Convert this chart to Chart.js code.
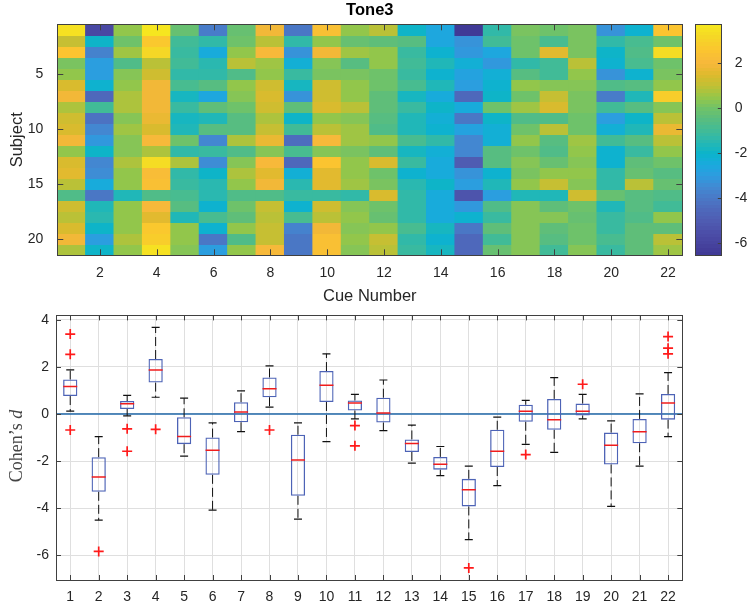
<!DOCTYPE html>
<html><head><meta charset="utf-8">
<script src="https://cdn.jsdelivr.net/npm/chart.js@4.4.1/dist/chart.umd.min.js"></script>
<style>
html,body{margin:0;padding:0;background:#fff;width:751px;height:604px;overflow:hidden;}
canvas{position:absolute;}
</style></head><body>
<canvas id="heat" width="690" height="310" style="left:0;top:0"></canvas>
<canvas id="cbar" width="61" height="310" style="left:690px;top:0"></canvas>
<canvas id="box" width="700" height="304" style="left:0;top:300px"></canvas>
<script>
// ---------------- DATA ----------------
const cueNumbers = [1,2,3,4,5,6,7,8,9,10,11,12,13,14,15,16,17,18,19,20,21,22];
const subjectNumbers = [1,2,3,4,5,6,7,8,9,10,11,12,13,14,15,16,17,18,19,20,21];
const heatXTicks = [2,4,6,8,10,12,14,16,18,20,22];
const heatYTicks = [5,10,15,20];
const colorbarTicks = [-6,-4,-2,0,2];
const boxYTicks = [-6,-4,-2,0,2,4];

// Cohen's d per cue (outer) and subject (inner, subjects 1..21)
const toneByCue = [
  [3.39,1.0,2.53,0.12,0.35,1.45,1.87,0.78,1.17,1.4,1.8,0.5,1.45,1.5,0.9,-0.68,1.3,0.85,1.4,1.85,0.75],
  [-5.83,-2.0,-3.8,-2.9,-2.9,-2.1,-4.5,-0.96,-4.2,-3.5,-3.1,-1.9,-3.5,-3.4,-2.5,-4.0,-1.6,-1.55,-2.0,-3.0,-2.0],
  [0.5,-0.08,0.6,-0.63,0.2,0.4,0.7,0.79,0.3,0.55,0.25,0.3,0.75,0.4,0.4,-1.58,0.4,0.45,0.5,0.7,0.4],
  [3.70,2.6,3.1,0.9,1.3,1.85,1.9,1.8,1.75,1.4,2.0,0.75,3.3,2.2,2.4,-0.65,2.0,1.6,2.6,2.8,3.4],
  [-0.2,-1.0,-1.2,-1.0,-1.3,-0.9,-1.79,-1.1,-1.75,-1.6,0.0,-1.4,0.67,-1.3,-1.1,-0.8,-0.5,-1.65,0.5,0.5,0.3],
  [-3.9,-1.3,-2.5,-1.5,-1.3,-0.5,-2.6,-0.38,-1.7,-0.6,-3.5,-1.2,-3.4,-2.0,-1.5,-1.55,-2.1,-0.8,-2.1,-4.08,-3.0],
  [-0.2,-0.1,0.5,0.98,-0.7,0.5,0.2,-0.1,-0.6,-0.5,0.7,-0.75,0.3,0.75,0.5,-0.7,-0.1,-0.35,0.35,-0.65,0.5],
  [1.8,0.95,2.04,0.6,0.45,1.3,1.35,1.2,0.75,1.0,1.7,0.29,2.0,1.55,1.85,-0.68,1.1,0.85,1.05,1.1,1.95],
  [-4.1,-1.4,-3.2,-2.3,-1.1,-1.8,-3.2,-0.38,-1.9,-1.0,-4.4,-0.8,-4.46,-2.3,-1.5,-1.2,-2.1,-0.8,-3.7,-4.1,-4.0],
  [2.3,0.4,1.9,0.3,0.1,1.2,1.2,1.4,0.4,0.9,2.0,0.3,2.55,1.5,1.6,-1.17,1.3,0.9,1.9,2.4,2.3],
  [0.5,-0.21,0.55,-0.49,0.1,0.5,0.45,0.83,0.2,0.55,0.55,0.15,0.5,0.5,0.65,-1.35,0.3,0.5,0.3,0.45,0.3],
  [0.9,-0.3,0.5,0.4,-0.1,-0.1,-0.3,-0.3,-0.5,-0.71,0.5,-0.4,1.44,0.0,0.05,1.4,0.0,-0.25,0.5,1.1,0.9],
  [-1.9,-0.47,-1.1,-1.05,-1.1,-0.8,-1.8,-1.1,-1.7,-1.7,-0.85,-1.75,-1.25,-2.08,-1.5,-1.3,-1.3,-1.35,-0.9,-1.3,-1.25],
  [-2.6,-2.61,-2.1,-1.6,-2.1,-1.7,-2.5,-1.9,-2.3,-2.1,-1.38,-2.3,-2.4,-2.4,-2.0,-2.4,-2.4,-2.4,-1.8,-2.1,-1.85],
  [-6.53,-3.2,-3.1,-2.3,-2.8,-2.9,-4.6,-2.4,-4.0,-2.8,-3.5,-3.5,-5.0,-3.3,-3.0,-5.33,-3.1,-2.21,-4.1,-4.5,-4.5],
  [-1.3,-1.05,-2.6,-3.04,-2.3,-2.2,-2.0,-0.13,-2.0,-2.3,-2.35,-0.5,-0.5,-2.2,-1.7,-2.9,-0.75,-1.1,-0.45,-1.0,-0.25],
  [0.1,-0.1,0.0,-1.29,-0.5,0.4,-0.1,0.58,-0.7,-0.05,0.45,-0.1,0.2,0.15,0.4,-1.72,0.2,0.3,0.3,0.3,0.2],
  [-0.1,-0.9,1.54,-1.0,-1.0,0.3,1.1,1.35,-0.7,0.9,-0.55,-0.65,-0.2,0.45,1.0,-1.63,-0.35,0.25,-0.4,-0.6,-1.05],
  [0.1,0.15,0.1,0.83,0.5,0.2,0.05,0.05,0.0,0.0,0.6,0.4,0.3,0.44,0.25,1.26,-0.06,-0.21,-0.05,0.0,0.2],
  [-3.3,-1.3,-1.9,-2.2,-3.2,-0.7,-3.92,-1.0,-2.9,-2.3,-1.0,-2.1,-2.2,-1.4,-1.3,-0.29,-1.7,-1.2,-1.1,-0.8,-1.2],
  [-2.21,-0.8,-0.75,-0.8,-2.1,-0.6,-1.6,-0.5,-2.0,-1.7,-0.5,-1.2,-0.45,-0.2,0.85,-0.6,-0.5,-0.7,-0.3,-0.4,-0.45],
  [2.55,0.0,3.28,-0.1,0.1,0.5,2.79,0.3,0.85,1.75,0.9,0.45,-0.1,-0.6,-0.24,-0.7,-0.96,0.4,-0.35,0.9,0.55]
];

// Box plot statistics per cue
const boxLow    = [0.12,-4.50,-0.08,0.71,-1.79,-4.08,-0.75,0.29,-4.46,-1.17,-0.21,-0.71,-2.08,-2.61,-5.33,-3.04,-1.29,-1.63,-0.21,-3.92,-2.21,-0.96];
const boxQ1     = [0.76,-3.30,0.21,1.33,-1.28,-2.58,-0.35,0.71,-3.47,0.51,0.15,-0.36,-1.61,-2.36,-3.92,-2.25,-0.33,-0.67,-0.06,-2.14,-1.24,-0.24];
const boxMedian = [1.17,-2.67,0.43,1.87,-0.96,-1.54,0.08,1.07,-1.95,1.22,0.47,0.04,-1.25,-2.13,-3.21,-1.58,0.12,-0.25,0.12,-1.33,-0.75,0.47];
const boxQ3     = [1.46,-1.83,0.55,2.33,-0.14,-1.00,0.50,1.55,-0.88,1.82,0.57,0.69,-1.08,-1.82,-2.75,-0.67,0.39,0.64,0.44,-0.79,-0.21,0.85];
const boxHigh   = [1.87,-0.96,0.79,3.67,0.67,-0.38,0.98,2.04,-0.38,2.55,0.83,1.44,-0.47,-1.38,-2.21,-0.13,0.58,1.54,0.83,-0.29,0.85,1.75];
const outlierCue   = [1,1,1,2,3,3,4,8,11,11,15,17,19,22,22,22];
const outlierValue = [3.39,2.53,-0.68,-5.83,-0.63,-1.58,-0.65,-0.68,-0.49,-1.35,-6.53,-1.72,1.26,3.28,2.79,2.55];

// ---------------- STYLE ----------------
const FONT = '"Liberation Sans", Arial, Helvetica, sans-serif';
const TXT = '#262626';
const AXC = '#404040';
// colormap anchors (fraction of colour range -> colour), parula-like as rendered in the reference
const CMAP_ANCHORS = [
  [0.000, [63,56,148]], [0.052, [71,68,159]], [0.100, [76,79,169]], [0.148, [79,92,178]],
  [0.197, [78,104,187]], [0.246, [74,120,198]], [0.294, [66,137,210]], [0.343, [46,155,223]],
  [0.392, [26,170,222]], [0.441, [11,180,202]], [0.489, [40,184,178]], [0.538, [64,187,152]],
  [0.587, [88,189,128]], [0.636, [112,194,104]], [0.685, [150,199,72]], [0.733, [192,192,52]],
  [0.782, [222,186,45]], [0.831, [247,184,59]], [0.889, [251,197,47]], [0.947, [245,216,38]],
  [1.000, [246,232,30]]
];
function cmapAt(t){
  t = Math.max(0, Math.min(1, t));
  for (let i = 1; i < CMAP_ANCHORS.length; i++) {
    const [t1, c1] = CMAP_ANCHORS[i], [t0, c0] = CMAP_ANCHORS[i - 1];
    if (t <= t1) {
      const f = (t - t0) / (t1 - t0);
      return [0,1,2].map(k => Math.round(c0[k] + (c1[k] - c0[k]) * f));
    }
  }
  return CMAP_ANCHORS[CMAP_ANCHORS.length - 1][1];
}
const NLEV = 64;
const CMAP = [];
for (let k = 0; k < NLEV; k++) CMAP.push(cmapAt((k + 0.5) / NLEV));
const allTone = toneByCue.flat();
const cMin = Math.min(...allTone), cMax = Math.max(...allTone);
function rgbOf(c){ return 'rgb(' + c[0] + ',' + c[1] + ',' + c[2] + ')'; }
function cellColor(v){
  let k = Math.floor((v - cMin) / (cMax - cMin) * NLEV);
  k = Math.max(0, Math.min(NLEV - 1, k));
  return rgbOf(CMAP[k]);
}

// frame + inward ticks plugin
const frameTicks = {
  id: 'frameTicks',
  afterDatasetsDraw(chart, args, o) {
    const {ctx, chartArea: a, scales} = chart;
    ctx.save();
    ctx.strokeStyle = o.color || AXC;
    ctx.lineWidth = 1;
    ctx.beginPath();
    const r = v => Math.round(v) + 0.5;
    (o.xTicks || []).forEach(v => {
      const px = r(scales.x.getPixelForValue(v));
      if (o.bottom) { ctx.moveTo(px, a.bottom); ctx.lineTo(px, a.bottom - o.len); }
      if (o.top) { ctx.moveTo(px, a.top); ctx.lineTo(px, a.top + o.len); }
    });
    (o.yTicks || []).forEach(v => {
      const py = r(scales.y.getPixelForValue(v));
      if (o.left) { ctx.moveTo(a.left, py); ctx.lineTo(a.left + o.len, py); }
      if (o.right) { ctx.moveTo(a.right, py); ctx.lineTo(a.right - o.len, py); }
    });
    ctx.stroke();
    ctx.strokeRect(r(a.left), r(a.top), Math.round(a.right) - Math.round(a.left), Math.round(a.bottom) - Math.round(a.top));
    ctx.restore();
  }
};

// ---------------- HEATMAP ----------------
const heatDatasets = subjectNumbers.map((s, r) => ({
  data: cueNumbers.map(c => ({x: c, y: [s - 0.5, s + 0.5]})),
  backgroundColor: cueNumbers.map((c, j) => cellColor(toneByCue[j][r])),
  borderWidth: 0, inflateAmount: 0.6, grouped: false,
  barPercentage: 1, categoryPercentage: 1
}));

new Chart(document.getElementById('heat'), {
  type: 'bar',
  data: {datasets: heatDatasets},
  plugins: [frameTicks],
  options: {
    responsive: false, animation: false, devicePixelRatio: 1,
    layout: {padding: {left: 0, right: 7.7, top: 0, bottom: 0}},
    plugins: {
      legend: {display: false}, tooltip: {enabled: false},
      title: {display: true, text: 'Tone3', fullSize: false, color: '#000',
              font: {family: FONT, size: 16.5, weight: 'bold'}, padding: {top: 0.5, bottom: 4}},
      frameTicks: {xTicks: heatXTicks, yTicks: heatYTicks, len: 6, top: true, bottom: true, left: true, right: true, color: AXC}
    },
    scales: {
      x: {type: 'linear', min: 0.5, max: 22.5, offset: false,
          grid: {display: false, offset: false}, border: {display: false},
          afterBuildTicks: s => { s.ticks = heatXTicks.map(v => ({value: v})); },
          afterFit: s => { s.height = 54.7; },
          ticks: {autoSkip: false, maxRotation: 0, padding: 1, color: TXT, font: {family: FONT, size: 14}},
          title: {display: true, text: 'Cue Number', color: TXT, font: {family: FONT, size: 16.5}, padding: {top: 0, bottom: 4.1}}},
      y: {type: 'linear', reverse: true, min: 0.5, max: 21.5,
          grid: {display: false}, border: {display: false},
          afterBuildTicks: s => { s.ticks = heatYTicks.map(v => ({value: v})); },
          afterFit: s => { s.width = 57.3; },
          ticks: {padding: 6, color: TXT, font: {family: FONT, size: 14}},
          title: {display: true, text: 'Subject', color: TXT, font: {family: FONT, size: 16.5}, padding: {top: 8, bottom: 0}}}
    }
  }
});

// ---------------- COLORBAR ----------------
new Chart(document.getElementById('cbar'), {
  type: 'bar',
  data: {labels: [''], datasets: [{
    data: [[cMin, cMax]],
    backgroundColor: (c) => {
      const ch = c.chart;
      if (!ch.chartArea) return '#888';
      const y = ch.scales.y;
      const g = ch.ctx.createLinearGradient(0, y.getPixelForValue(cMin), 0, y.getPixelForValue(cMax));
      for (let k = 0; k < NLEV; k++) {
        g.addColorStop(k / NLEV, rgbOf(CMAP[k]));
        g.addColorStop(Math.min(1, (k + 1) / NLEV - 0.0001), rgbOf(CMAP[k]));
      }
      return g;
    },
    borderWidth: 0, barPercentage: 1, categoryPercentage: 1
  }]},
  plugins: [frameTicks],
  options: {
    responsive: false, animation: false, devicePixelRatio: 1,
    layout: {padding: {left: 5.3, right: 0, top: 24.3, bottom: 54.7}},
    plugins: {legend: {display: false}, tooltip: {enabled: false},
      frameTicks: {yTicks: colorbarTicks, len: 3.5, right: true, color: AXC}},
    scales: {
      x: {display: false},
      y: {position: 'right', min: cMin, max: cMax,
          grid: {display: false}, border: {display: false},
          afterBuildTicks: s => { s.ticks = colorbarTicks.map(v => ({value: v})); },
          afterFit: s => { s.width = 29.7; },
          ticks: {padding: 5.5, color: TXT, font: {family: FONT, size: 14}}}
    }
  }
});

// ---------------- BOX PLOT ----------------
const whiskerPts = [];
cueNumbers.forEach((c, i) => {
  whiskerPts.push({x: c, y: boxQ3[i]}, {x: c, y: boxHigh[i]}, {x: c, y: null},
                  {x: c, y: boxQ1[i]}, {x: c, y: boxLow[i]}, {x: c, y: null});
});
const capPts = [];
cueNumbers.forEach((c, i) => { capPts.push({x: c, y: boxLow[i]}, {x: c, y: boxHigh[i]}); });

const yLabelPlugin = {
  id: 'yLabel',
  afterDraw(chart) {
    const ctx = chart.ctx;
    ctx.save();
    ctx.translate(17, 146);
    ctx.rotate(-Math.PI / 2);
    ctx.fillStyle = '#444';
    ctx.textBaseline = 'middle';
    const a = 'Cohen\u2019s ', b = 'd';
    ctx.font = '18px "Liberation Serif", "Times New Roman", serif';
    const wa = ctx.measureText(a).width;
    ctx.font = 'italic 18px "Liberation Serif", "Times New Roman", serif';
    const wb = ctx.measureText(b).width;
    const x0 = -(wa + wb) / 2;
    ctx.font = '18px "Liberation Serif", "Times New Roman", serif';
    ctx.fillText(a, x0, 0);
    ctx.font = 'italic 18px "Liberation Serif", "Times New Roman", serif';
    ctx.fillText(b, x0 + wa, 0);
    ctx.restore();
  }
};

new Chart(document.getElementById('box'), {
  type: 'bar',
  data: {datasets: [
    {type: 'line', data: [{x: 0.5, y: 0}, {x: 22.5, y: 0}], borderColor: '#1f67a8', borderWidth: 1.3,
     pointRadius: 0, order: 10},
    {type: 'line', data: whiskerPts, borderColor: '#111', borderWidth: 1, borderDash: [9, 4],
     pointRadius: 0, spanGaps: false, order: 6},
    {type: 'line', data: capPts, showLine: false, pointStyle: 'line', pointRadius: 4,
     pointBorderColor: '#111', pointBorderWidth: 1.2, pointBackgroundColor: '#111', order: 5},
    {type: 'bar', data: cueNumbers.map((c, i) => ({x: c, y: [boxQ1[i], boxQ3[i]]})),
     backgroundColor: 'rgba(0,0,0,0)', borderColor: '#4d63b6', borderWidth: 1.3, borderSkipped: false,
     barPercentage: 0.5, categoryPercentage: 1, order: 4},
    {type: 'line', data: cueNumbers.map((c, i) => ({x: c, y: boxMedian[i]})), showLine: false,
     pointStyle: 'line', pointRadius: 7, pointBorderColor: '#f01c1c', pointBorderWidth: 1.5, order: 2},
    {type: 'line', data: outlierCue.map((c, i) => ({x: c, y: outlierValue[i]})), showLine: false,
     pointStyle: 'cross', pointRadius: 5, pointBorderColor: '#ff1a1a', pointBorderWidth: 1.7, order: 1}
  ]},
  plugins: [frameTicks, yLabelPlugin],
  options: {
    responsive: false, animation: false, devicePixelRatio: 1,
    layout: {padding: {left: 0, right: 17.7, top: 11, bottom: 0}},
    plugins: {legend: {display: false}, tooltip: {enabled: false},
      frameTicks: {xTicks: cueNumbers, yTicks: boxYTicks, len: 5, top: true, bottom: true, left: true, right: true, color: AXC}},
    scales: {
      x: {type: 'linear', min: 0.5, max: 22.5, offset: false,
          grid: {display: true, offset: false, color: '#dfdfdf', drawTicks: false}, border: {display: false},
          afterBuildTicks: s => { s.ticks = cueNumbers.map(v => ({value: v})); },
          afterFit: s => { s.height = 24; },
          ticks: {autoSkip: false, maxRotation: 0, padding: 8.3, color: TXT, font: {family: FONT, size: 14}}},
      y: {type: 'linear', min: -7.04, max: 4.18,
          grid: {display: true, color: '#dfdfdf', drawTicks: false}, border: {display: false},
          afterBuildTicks: s => { s.ticks = boxYTicks.map(v => ({value: v})); },
          afterFit: s => { s.width = 56; },
          ticks: {padding: 7, color: TXT, font: {family: FONT, size: 14}}}
    }
  }
});
</script></body></html>
